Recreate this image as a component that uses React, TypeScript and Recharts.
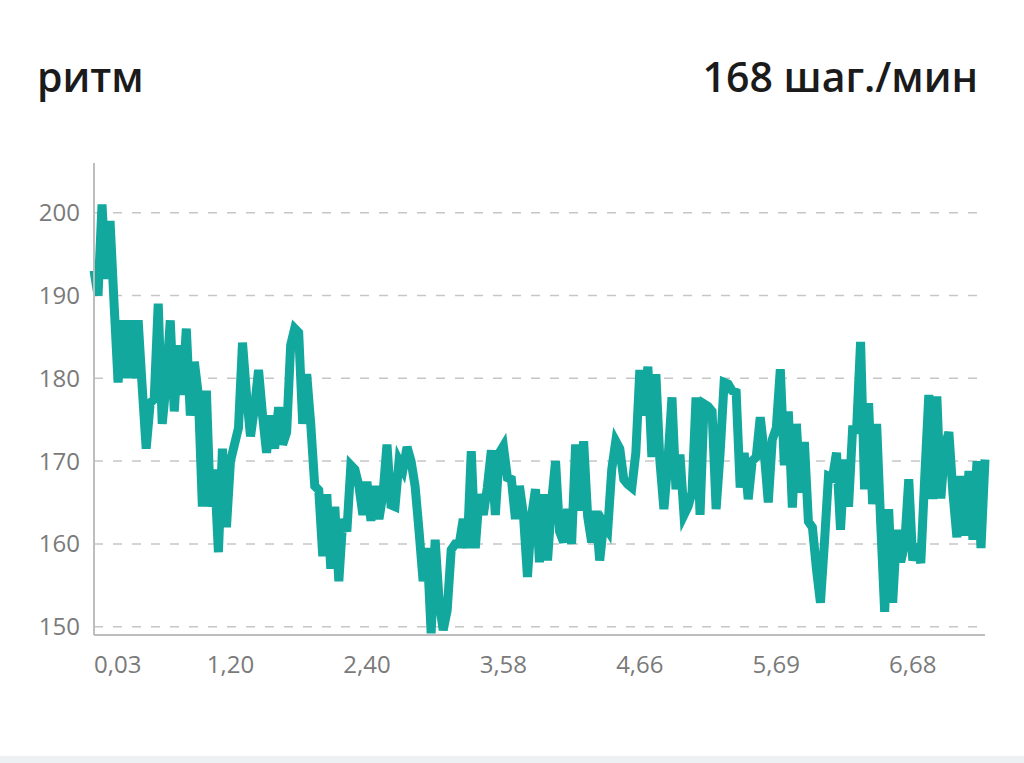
import React from 'react';
import { LineChart, Line, XAxis, YAxis, CartesianGrid } from 'recharts';

// cadence, steps per minute, one value per sample along the run
const cadence: number[] = [
  193, 190, 201, 192, 199, 189, 179.5, 187, 180, 187,
  180, 187, 179, 171.5, 177, 177.5, 189, 174.5, 179.5, 187,
  176, 184, 178, 186, 175.5, 182, 178, 164.5, 178.5, 164.5,
  169, 159, 171.5, 162, 170, 172, 174, 184.3, 178, 173,
  176.5, 181, 175.5, 171, 175.5, 171.5, 176.5, 172, 173.5, 184,
  186, 185.5, 174.5, 180.5, 174.5, 167, 166.5, 158.5, 166, 157,
  164.5, 155.5, 163, 161.5, 169.5, 169, 167, 163.5, 167.5, 162.8,
  167, 163, 166, 172, 164.7, 164.5, 170, 169, 171.7, 170,
  167, 161.5, 155.5, 159.5, 149.2, 160.5, 153, 149.6, 152, 159.3,
  160, 160, 163, 159.5, 171.2, 159.5, 166, 163.5, 166.8, 171.3,
  163.5, 171, 171.8, 168, 167.8, 163, 167, 163.5, 156, 163.3,
  166.6, 157.8, 166, 158, 165, 170, 161.5, 160.2, 164.2, 160,
  172, 164, 172.4, 163.3, 160.2, 164, 158, 162.5, 161.7, 169,
  172.4, 171.5, 167.8, 167.2, 166.8, 171, 181, 175.5, 181.4, 170.5,
  180.5, 170, 164.2, 170, 177.7, 166.6, 170.8, 163.5, 164.5, 166.2,
  177.7, 163.5, 176.9, 176.6, 176, 164.2, 171, 179.5, 179.3, 178.5,
  178.3, 166.8, 171, 165.4, 170, 170.5, 175.3, 171, 165, 172.6,
  174, 181.1, 169.5, 176, 164.4, 174.5, 166.2, 172.3, 162.7, 162,
  157, 152.9, 160.2, 168.2, 168, 171, 161.7, 170.2, 164.5, 173.8,
  173.8, 184.4, 166.6, 177, 164.8, 174.5, 162.6, 151.8, 164.2, 152.9,
  161.7, 157.8, 160, 167.8, 158, 160, 157.7, 168.2, 178, 165.4,
  177.8, 165.5, 171.8, 173.5, 166.2, 160.8, 168.2, 161, 168.8, 160.5,
  170, 159.5, 170.2,
];

// sample index where each distance label sits, and the label (km)
const tickIndex = [0, 34, 68, 102, 136, 170, 204];
const tickLabels = ['0,03', '1,20', '2,40', '3,58', '4,66', '5,69', '6,68'];
const yTicks = [150, 160, 170, 180, 190, 200];

const data = cadence.map((v, i) => ({ i, v }));

const XTick = (props: any) => {
  const { x, y, payload } = props;
  const k = tickIndex.indexOf(payload.value);
  return (
    <text
      x={x}
      y={y}
      dy="0.71em"
      textAnchor={k === 0 ? 'start' : 'middle'}
      fill="#7a7a7a"
      fontSize={24}
    >
      {tickLabels[k]}
    </text>
  );
};

const titleStyle: React.CSSProperties = {
  position: 'absolute',
  top: 54,
  fontSize: 41,
  lineHeight: '44px',
  fontWeight: 600,
  color: '#1b1b1b',
};

const App = () => {
  return (
    <div
      style={{
        position: 'absolute',
        left: 0,
        top: 0,
        width: 1024,
        height: 763,
        background: '#fff',
        fontFamily: '"Open Sans", sans-serif',
        overflow: 'hidden',
      }}
    >
      <div style={{ ...titleStyle, left: 37 }}>ритм</div>
      <div style={{ ...titleStyle, right: 46, textAlign: 'right' }}>168 шаг./мин</div>
      <div style={{ position: 'absolute', left: 0, top: 0 }}>
        <LineChart
          width={1024}
          height={720}
          data={data}
          margin={{ top: 163, right: 39, left: 0, bottom: 35 }}
        >
          <CartesianGrid
            vertical={false}
            horizontalValues={yTicks}
            stroke="#c6c6c6"
            strokeWidth={1.5}
            strokeDasharray="9 10"
          />
          <XAxis
            dataKey="i"
            type="number"
            domain={[0, cadence.length - 1]}
            ticks={tickIndex}
            interval={0}
            height={50}
            tickLine={false}
            tickSize={6}
            tickMargin={15}
            axisLine={{ stroke: '#bdbdbd', strokeWidth: 2 }}
            tick={<XTick />}
          />
          <YAxis
            domain={[149, 206]}
            ticks={yTicks}
            allowDataOverflow
            width={94}
            tickLine={false}
            tickSize={6}
            tickMargin={8}
            axisLine={{ stroke: '#bdbdbd', strokeWidth: 2 }}
            tick={{ fill: '#7a7a7a', fontSize: 24 }}
          />
          <Line
            type="linear"
            dataKey="v"
            stroke="#12a89d"
            strokeWidth={9}
            dot={false}
            isAnimationActive={false}
          />
        </LineChart>
      </div>
      <div
        style={{
          position: 'absolute',
          left: 0,
          top: 756,
          width: 1024,
          height: 7,
          background: '#eef1f4',
        }}
      />
    </div>
  );
};

export default App;
